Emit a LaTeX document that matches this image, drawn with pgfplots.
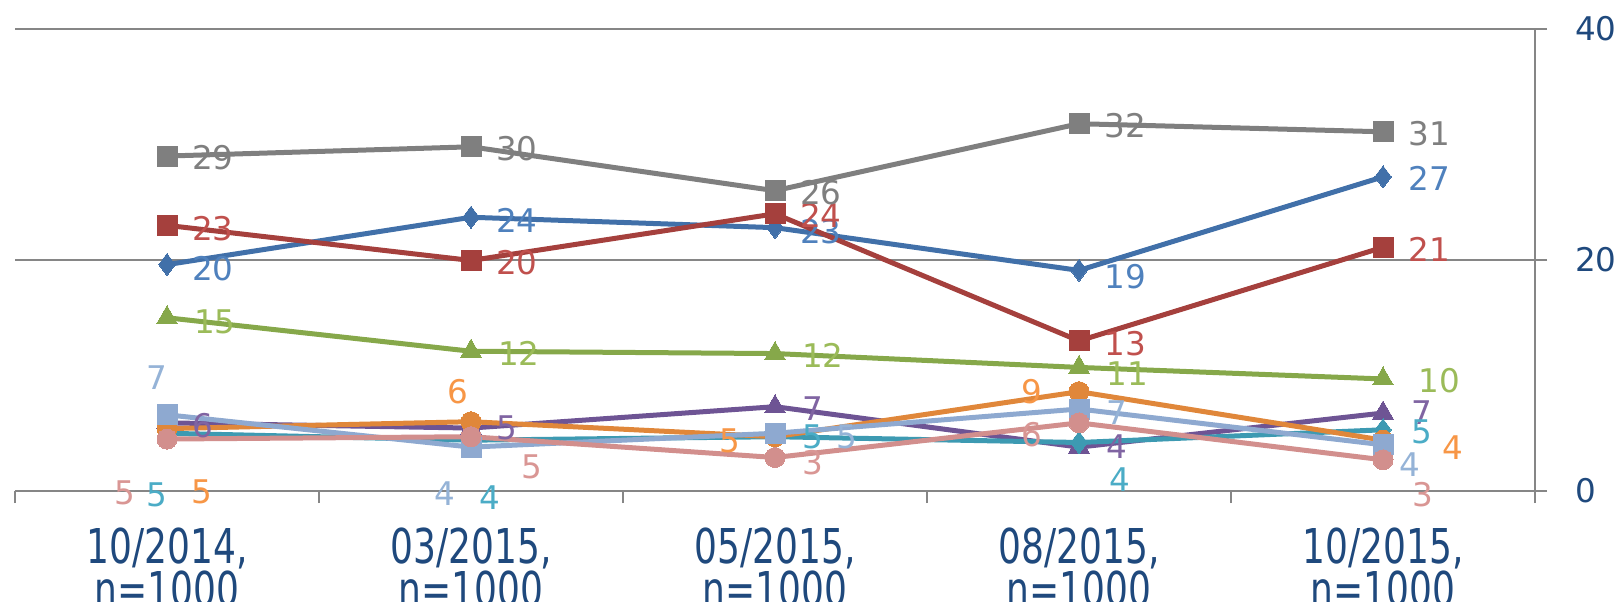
\documentclass[border=0pt]{standalone}
\usepackage{pgfplots}
\pgfplotsset{compat=1.18}
\usepackage{pgfplotstable}
\usepackage{fontspec}
\setmainfont{DejaVu Sans}
\newfontfamily\catfont[FakeStretch=0.75]{DejaVu Sans}

\definecolor{axisgray}{HTML}{868686}
\definecolor{navy}{HTML}{1F497D}
\definecolor{cGray}{HTML}{7F7F7F}
\definecolor{cBlue}{HTML}{4170A9}
\definecolor{lBlue}{HTML}{4F81BD}
\definecolor{cRed}{HTML}{A5403D}
\definecolor{lRed}{HTML}{C0504D}
\definecolor{cGreen}{HTML}{86A84A}
\definecolor{lGreen}{HTML}{9BBB59}
\definecolor{cPurple}{HTML}{6E5494}
\definecolor{lPurple}{HTML}{8064A2}
\definecolor{cTeal}{HTML}{3D9AB2}
\definecolor{lTeal}{HTML}{4BACC6}
\definecolor{cOrange}{HTML}{E0873A}
\definecolor{lOrange}{HTML}{F79646}
\definecolor{cLBlue}{HTML}{8EA9D0}
\definecolor{lLBlue}{HTML}{95B3D7}
\definecolor{cPink}{HTML}{D28F8D}
\definecolor{lPink}{HTML}{D99694}

% x y label dx(pt) dy(pt)
\pgfplotstableread{
x y lab dx dy
0 29.0 29 23 -1
1 29.8 30 23 -1
2 26.0 26 23 -1
3 31.8 32 23 -1
4 31.1 31 23 -1
}\tGray
\pgfplotstableread{
x y lab dx dy
0 19.6 20 23 -2
1 23.7 24 23 -1.5
2 22.8 23 23 -2
3 19.1 19 23 -3
4 27.2 27 23 -1
}\tBlue
\pgfplotstableread{
x y lab dx dy
0 23.0 23 23 -1.5
1 19.96 20 23 -1
2 24.0 24 23 -1
3 13.0 13 23 -1.5
4 21.1 21 23 -1
}\tRed
\pgfplotstableread{
x y lab dx dy
0 15.0 15 24 -2
1 12.1 12 24 -1
2 11.9 12 24 -1
3 10.7 11 24 -3
4 9.7 10 28 -1
}\tGreen
\pgfplotstableread{
x y lab dx dy
0 5.9 6 18 -1.5
1 5.45 5 18 0
2 7.3 7 19 -1
3 3.8 4 19 0
4 6.75 7 19.5 0
}\tPurple
\pgfplotstableread{
x y lab dx dy
0 5.0 5 -5 -31
1 4.4 4 9.5 -28.5
2 4.7 5 19 0
3 4.2 4 20.5 -18.5
4 5.3 5 19.5 -1
}\tTeal
\pgfplotstableread{
x y lab dx dy
0 5.4 5 17.5 -31.5
1 6.0 6 -6.5 15
2 4.7 5 -22.5 -2
3 8.6 9 -23.5 0
4 4.4 4 35 -3.5
}\tOrange
\pgfplotstableread{
x y lab dx dy
0 6.6 7 -5 18.5
1 3.8 4 -13 -23.5
2 5.0 5 36 -2
3 7.1 7 19 -2
4 4.0 4 13.5 -10
}\tLBlue
\pgfplotstableread{
x y lab dx dy
0 4.5 5 -21 -27
1 4.7 5 30.5 -15
2 2.9 3 19 -2.5
3 5.9 6 -23.5 -6
4 2.7 3 20 -17.5
}\tPink

\pgfplotsset{
  ser/.style={line width=2.5pt, color=#1, mark options={solid, fill=#1, draw=#1, line width=0pt}},
  lab/.style={draw=none, mark=none, forget plot,
    nodes near coords, point meta=explicit symbolic,
    visualization depends on={\thisrow{dx}\as\labdx},
    visualization depends on={\thisrow{dy}\as\labdy},
    every node near coord/.append style={anchor=center, inner sep=0pt,
      xshift=\labdx pt, yshift=\labdy pt, text=#1,
      font=\fontsize{16.3}{18}\selectfont}},
}

\begin{document}
\begin{tikzpicture}
\begin{axis}[
  scale only axis,
  width=760pt, height=231pt,
  xmin=-0.5, xmax=4.5, ymin=0, ymax=40,
  clip=false,
  /pgf/number format/assume math mode=true,
  axis x line*=bottom, axis y line*=right,
  axis line style={-, draw=axisgray, line width=1.2pt},
  xtick={-0.5,0.5,1.5,2.5,3.5,4.5},
  xticklabels={{},{},{},{},{},{}},
  extra x ticks={0,1,2,3,4},
  extra x tick labels={{10/2014,\\n=1000},{03/2015,\\n=1000},{05/2015,\\n=1000},{08/2015,\\n=1000},{10/2015,\\n=1000}},
  extra x tick style={major tick length=0pt, grid=none,
    tick label style={align=center, anchor=north, inner sep=0pt, yshift=-18pt,
      text=navy, font=\catfont\fontsize{24}{20.5}\selectfont}},
  ytick={0,20,40},
  ymajorgrids,
  grid style={draw=axisgray, line width=1pt},
  tick align=outside,
  major tick length=6pt,
  tick style={draw=axisgray, line width=1pt},
  yticklabel style={anchor=west, inner sep=0pt, xshift=13.8pt, text=navy,
    font=\fontsize{16.3}{18}\selectfont},
]
\addplot[ser=cBlue, mark=diamond*, mark size=5.5pt] table[x=x,y=y]{\tBlue};
\addplot[ser=cRed, mark=square*, mark size=5pt] table[x=x,y=y]{\tRed};
\addplot[ser=cGreen, mark=triangle*, mark size=6pt] table[x=x,y=y]{\tGreen};
\addplot[ser=cPurple, mark=triangle*, mark size=6pt] table[x=x,y=y]{\tPurple};
\addplot[ser=cTeal, mark=diamond*, mark size=5.5pt] table[x=x,y=y]{\tTeal};
\addplot[ser=cOrange, mark=*, mark size=5pt] table[x=x,y=y]{\tOrange};
\addplot[ser=cLBlue, mark=square*, mark size=5pt] table[x=x,y=y]{\tLBlue};
\addplot[ser=cPink, mark=*, mark size=5pt] table[x=x,y=y]{\tPink};
\addplot[ser=cGray, mark=square*, mark size=5pt] table[x=x,y=y]{\tGray};

\addplot[lab=lBlue] table[x=x,y=y,meta=lab]{\tBlue};
\addplot[lab=lRed] table[x=x,y=y,meta=lab]{\tRed};
\addplot[lab=lGreen] table[x=x,y=y,meta=lab]{\tGreen};
\addplot[lab=lPurple] table[x=x,y=y,meta=lab]{\tPurple};
\addplot[lab=lTeal] table[x=x,y=y,meta=lab]{\tTeal};
\addplot[lab=lOrange] table[x=x,y=y,meta=lab]{\tOrange};
\addplot[lab=lLBlue] table[x=x,y=y,meta=lab]{\tLBlue};
\addplot[lab=lPink] table[x=x,y=y,meta=lab]{\tPink};
\addplot[lab=cGray] table[x=x,y=y,meta=lab]{\tGray};
\end{axis}
\pgfresetboundingbox
\useasboundingbox (-7.5pt,-55pt) rectangle (803pt,245.5pt);
\end{tikzpicture}
\end{document}
